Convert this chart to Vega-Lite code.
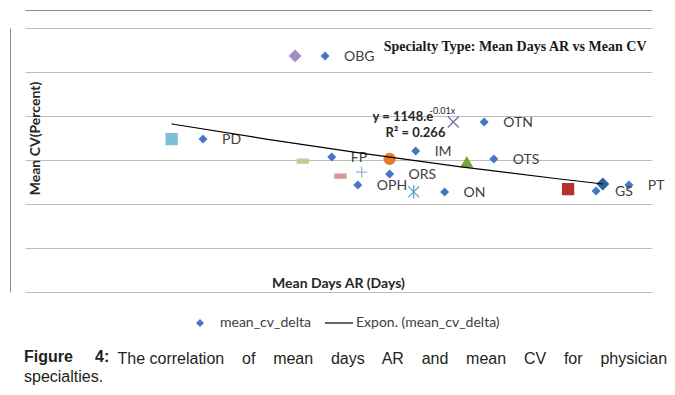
{
  "$schema": "https://vega.github.io/schema/vega-lite/v6.json",
  "width": 627,
  "height": 264,
  "autosize": "none",
  "padding": {"left": 25, "top": 28, "right": 23, "bottom": 103},
  "background": "white",
  "datasets": {
    "delta": [
      {"specialty": "OBG", "days": 56.1, "cv": 1073, "series": "mean_cv_delta"},
      {"specialty": "PD", "days": 43.45, "cv": 695, "series": "mean_cv_delta"},
      {"specialty": "FP", "days": 56.8, "cv": 614, "series": "mean_cv_delta"},
      {"specialty": "IM", "days": 65.5, "cv": 641, "series": "mean_cv_delta"},
      {"specialty": "OTN", "days": 72.6, "cv": 773, "series": "mean_cv_delta"},
      {"specialty": "OTS", "days": 73.6, "cv": 605, "series": "mean_cv_delta"},
      {"specialty": "ORS", "days": 62.8, "cv": 536, "series": "mean_cv_delta"},
      {"specialty": "OPH", "days": 59.5, "cv": 486, "series": "mean_cv_delta"},
      {"specialty": "ON", "days": 68.5, "cv": 455, "series": "mean_cv_delta"},
      {"specialty": "GS", "days": 84.2, "cv": 459, "series": "mean_cv_delta"},
      {"specialty": "PT", "days": 87.6, "cv": 486, "series": "mean_cv_delta"}
    ],
    "others": [
      {"series": "Series 2", "days": 81.3, "cv": 468},
      {"series": "Series 3", "days": 70.8, "cv": 591},
      {"series": "Series 4", "days": 69.4, "cv": 773},
      {"series": "Series 5", "days": 65.3, "cv": 455},
      {"series": "Series 6", "days": 62.8, "cv": 605},
      {"series": "Series 7", "days": 59.9, "cv": 545},
      {"series": "Series 8", "days": 57.7, "cv": 527},
      {"series": "Series 9", "days": 53.8, "cv": 595},
      {"series": "Series 10", "days": 53.0, "cv": 1073},
      {"series": "Series 11", "days": 40.2, "cv": 695},
      {"series": "Series 12", "days": 84.9, "cv": 491}
    ],
    "trend": [
      {"series": "Expon. (mean_cv_delta)", "days": 40.2, "cv": 764},
      {"series": "Expon. (mean_cv_delta)", "days": 50, "cv": 695},
      {"series": "Expon. (mean_cv_delta)", "days": 60, "cv": 630},
      {"series": "Expon. (mean_cv_delta)", "days": 70, "cv": 570},
      {"series": "Expon. (mean_cv_delta)", "days": 80, "cv": 516},
      {"series": "Expon. (mean_cv_delta)", "days": 84.9, "cv": 491}
    ]
  },
  "title": {
    "text": "Figure\u00a0\u00a0\u00a0\u00a0 4:",
    "subtitle": "specialties.",
    "orient": "bottom",
    "anchor": "start",
    "frame": "group",
    "font": "Liberation Sans",
    "fontSize": 16,
    "fontWeight": "bold",
    "color": "#231f20",
    "subtitleFont": "Liberation Sans",
    "subtitleFontSize": 16,
    "subtitleFontWeight": "normal",
    "subtitleColor": "#231f20",
    "subtitlePadding": 4,
    "offset": -17,
    "dx": -1
  },
  "layer": [
    {
      "data": {"name": "others"},
      "mark": {"type": "point", "filled": true, "opacity": 1, "strokeWidth": 1.3},
      "encoding": {
        "x": {
          "field": "days", "type": "quantitative",
          "scale": {"domain": [25, 90], "nice": false, "zero": false},
          "axis": {
            "orient": "bottom", "domain": false, "ticks": false, "labels": false, "grid": false,
            "title": "Mean Days AR (Days)", "titleFont": "Lato", "titleFontSize": 14, "titleFontWeight": "bold",
            "titleColor": "#262626", "titleX": 313, "titleY": -9, "titleAlign": "center", "titleBaseline": "middle"
          }
        },
        "y": {
          "field": "cv", "type": "quantitative",
          "scale": {"domain": [0, 1200], "nice": false, "zero": false},
          "axis": {
            "orient": "left", "offset": 15, "domain": true, "domainColor": "#8c8c8c", "domainWidth": 1,
            "ticks": false, "labels": false, "grid": false,
            "title": "Mean CV(Percent)", "titleFont": "Lato", "titleFontSize": 14, "titleFontWeight": "bold",
            "titleColor": "#262626", "titleAngle": -90, "titleX": 25, "titleY": 110, "titleAlign": "center", "titleBaseline": "middle"
          }
        },
        "shape": {
          "field": "series", "type": "nominal", "legend": null,
          "scale": {
            "domain": ["Series 2", "Series 3", "Series 4", "Series 5", "Series 6", "Series 7", "Series 8", "Series 9", "Series 10", "Series 11", "Series 12"],
            "range": ["square", "triangle-up", "M-1,-1L1,1M-1,1L1,-1", "M-1,-1L1,1M-1,1L1,-1M0,-1.25L0,1.25", "circle", "M-1,0L1,0M0,-1L0,1", "M-1,-0.35L1,-0.35L1,0.35L-1,0.35Z", "M-1,-0.35L1,-0.35L1,0.35L-1,0.35Z", "diamond", "square", "diamond"]
          }
        },
        "fill": {
          "field": "series", "type": "nominal", "legend": null,
          "scale": {
            "domain": ["Series 2", "Series 3", "Series 4", "Series 5", "Series 6", "Series 7", "Series 8", "Series 9", "Series 10", "Series 11", "Series 12"],
            "range": ["#b92f2c", "#76a73c", "#8064a2", "#4bacc6", "#e97a2c", "#95b3d7", "#d99694", "#b8cf8d", "#a48dc1", "#7cc0d6", "#2f5f9a"]
          }
        },
        "stroke": {
          "field": "series", "type": "nominal", "legend": null,
          "scale": {
            "domain": ["Series 2", "Series 3", "Series 4", "Series 5", "Series 6", "Series 7", "Series 8", "Series 9", "Series 10", "Series 11", "Series 12"],
            "range": ["#b92f2c", "#76a73c", "#8064a2", "#4bacc6", "#e97a2c", "#95b3d7", "#d99694", "#b8cf8d", "#a48dc1", "#7cc0d6", "#2f5f9a"]
          }
        },
        "size": {
          "field": "series", "type": "nominal", "legend": null,
          "scale": {
            "domain": ["Series 2", "Series 3", "Series 4", "Series 5", "Series 6", "Series 7", "Series 8", "Series 9", "Series 10", "Series 11", "Series 12"],
            "range": [121, 121, 100, 100, 140, 100, 40, 121, 130, 121, 90]
          }
        }
      }
    },
    {
      "data": {"name": "delta"},
      "mark": {"type": "point", "shape": "diamond", "filled": true, "opacity": 1, "size": 81},
      "encoding": {
        "x": {
          "field": "days", "type": "quantitative",
          "scale": {"domain": [25, 90], "nice": false, "zero": false},
          "axis": {
            "orient": "top", "offset": 18, "domain": true, "domainColor": "#8c8c8c", "domainWidth": 1,
            "ticks": false, "labels": false, "grid": false,
            "title": "Specialty Type: Mean Days AR vs Mean CV", "titleFont": "Liberation Serif", "titleFontSize": 14,
            "titleFontWeight": "bold", "titleColor": "#1a1a1a", "titleX": 621, "titleY": 40, "titleAlign": "right", "titleBaseline": "alphabetic"
          }
        },
        "y": {
          "field": "cv", "type": "quantitative",
          "scale": {"domain": [0, 1200], "nice": false, "zero": false},
          "axis": {
            "orient": "right", "domain": false, "ticks": false, "labels": false, "grid": true,
            "gridColor": "#bdbdbd", "gridWidth": 1, "values": [0, 200, 400, 600, 800, 1000, 1200],
            "title": "The correlation\u00a0\u00a0\u00a0 of\u00a0\u00a0\u00a0 mean\u00a0\u00a0\u00a0 days\u00a0\u00a0\u00a0 AR\u00a0\u00a0\u00a0 and\u00a0\u00a0\u00a0 mean\u00a0\u00a0\u00a0 CV\u00a0\u00a0\u00a0 for\u00a0\u00a0\u00a0 physician",
            "titleFont": "Liberation Sans", "titleFontSize": 16, "titleFontWeight": "normal", "titleColor": "#231f20",
            "titleAngle": 0, "titleX": -535, "titleY": 335, "titleAlign": "left", "titleBaseline": "alphabetic"
          }
        },
        "color": {
          "field": "series", "type": "nominal",
          "scale": {"domain": ["mean_cv_delta"], "range": ["#4377c2"]},
          "legend": {
            "orient": "none", "legendX": 168, "legendY": 288, "title": null, "padding": 0,
            "symbolType": "diamond", "symbolSize": 64, "symbolStrokeWidth": 0,
            "labelFont": "Lato", "labelFontSize": 14, "labelColor": "#404040", "labelOffset": 13
          }
        }
      }
    },
    {
      "data": {"name": "delta"},
      "mark": {"type": "text", "align": "left", "baseline": "middle", "dx": 19, "dy": 1, "font": "Lato", "fontSize": 14, "color": "#404040"},
      "encoding": {
        "x": {"field": "days", "type": "quantitative", "axis": null},
        "y": {"field": "cv", "type": "quantitative", "axis": null},
        "text": {"field": "specialty", "type": "nominal"}
      }
    },
    {
      "data": {"name": "trend"},
      "mark": {"type": "line", "strokeWidth": 1.2, "interpolate": "monotone"},
      "encoding": {
        "x": {"field": "days", "type": "quantitative", "axis": null},
        "y": {"field": "cv", "type": "quantitative", "axis": null},
        "stroke": {
          "field": "series", "type": "nominal",
          "scale": {"domain": ["Expon. (mean_cv_delta)"], "range": ["#000000"]},
          "legend": {
            "orient": "none", "legendX": 299, "legendY": 280, "title": null, "padding": 0,
            "symbolType": "stroke", "symbolSize": 784, "symbolStrokeWidth": 1.2,
            "labelFont": "Lato", "labelFontSize": 14, "labelColor": "#404040", "labelOffset": 2
          }
        }
      }
    },
    {
      "data": {"name": "trend"},
      "transform": [{"filter": "datum.days == 60"}],
      "mark": {"type": "text", "align": "left", "baseline": "middle", "dx": 10, "dy": -36, "font": "Lato", "fontSize": 13, "fontWeight": "bold", "color": "#262626"},
      "encoding": {
        "x": {"field": "days", "type": "quantitative", "axis": null},
        "y": {"field": "cv", "type": "quantitative", "axis": null},
        "text": {"value": "y = 1148.e"}
      }
    },
    {
      "data": {"name": "trend"},
      "transform": [{"filter": "datum.days == 60"}],
      "mark": {"type": "text", "align": "left", "baseline": "middle", "dx": 67, "dy": -42, "font": "Lato", "fontSize": 9, "fontWeight": "normal", "color": "#262626"},
      "encoding": {
        "x": {"field": "days", "type": "quantitative", "axis": null},
        "y": {"field": "cv", "type": "quantitative", "axis": null},
        "text": {"value": "-0.01x"}
      }
    },
    {
      "data": {"name": "trend"},
      "transform": [{"filter": "datum.days == 60"}],
      "mark": {"type": "text", "align": "left", "baseline": "middle", "dx": 23, "dy": -20, "font": "Lato", "fontSize": 13, "fontWeight": "bold", "color": "#262626"},
      "encoding": {
        "x": {"field": "days", "type": "quantitative", "axis": null},
        "y": {"field": "cv", "type": "quantitative", "axis": null},
        "text": {"value": "R² = 0.266"}
      }
    }
  ],
  "resolve": {
    "scale": {"color": "independent", "fill": "independent", "stroke": "independent", "shape": "independent", "size": "independent"},
    "axis": {"x": "independent", "y": "independent"}
  },
  "config": {"view": {"stroke": null}}
}
